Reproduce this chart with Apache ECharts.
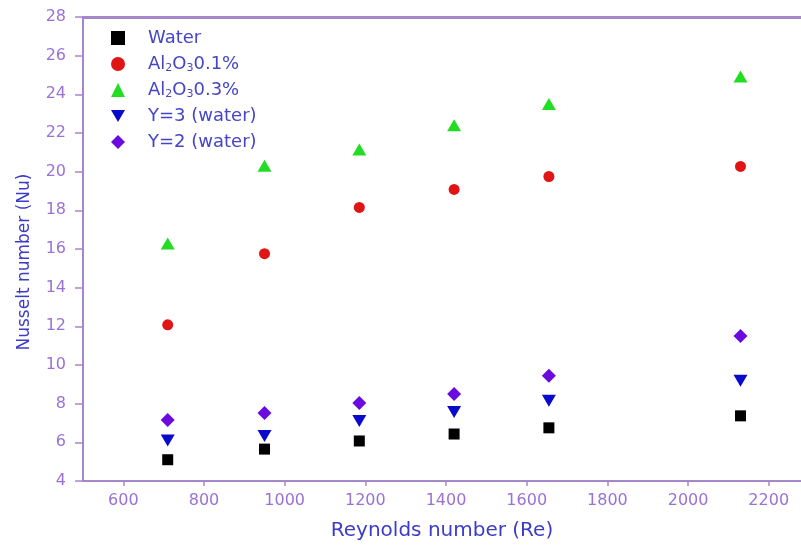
<!DOCTYPE html>
<html>
<head>
<meta charset="utf-8">
<title>Nusselt number vs Reynolds number</title>
<script src="https://cdn.jsdelivr.net/npm/echarts@6/dist/echarts.min.js"></script>
<style>
  html, body { margin: 0; padding: 0; background: #ffffff; }
  #chart { width: 801px; height: 549px; }
</style>
</head>
<body>
<div id="chart"></div>
<script>
// Reynolds numbers of the measured runs
const reynolds = [710, 950, 1185, 1420, 1655, 2130];

// Nusselt numbers for each working fluid / insert
const water    = [5.1, 5.65, 6.07, 6.43, 6.75, 7.37];
const al2o3_01 = [12.08, 15.76, 18.15, 19.08, 19.75, 20.27];
const al2o3_03 = [16.28, 20.3, 21.15, 22.4, 23.5, 24.92];
const y3Water  = [6.1, 6.33, 7.1, 7.57, 8.15, 9.18];
const y2Water  = [7.16, 7.52, 8.04, 8.5, 9.44, 11.5];

// Axis tick values
const xTicks = [600, 800, 1000, 1200, 1400, 1600, 1800, 2000, 2200];

const axisColor = '#a687cc';
const tickLabelColor = '#9a72d6';
const nameColor = '#3c3cc8';
const font = 'DejaVu Sans';

function pairs(ys) {
  return reynolds.map((x, i) => [x, ys[i]]);
}

const downTriangle = 'path://M0,0 L10,0 L5,8.5 Z';

const seriesDefs = [
  { name: 'Water', data: water, symbol: 'rect', size: [11, 11], color: '#000000', icon: 'rect' },
  { name: 'Al2O3 0.1%', data: al2o3_01, symbol: 'circle', size: 11, color: '#e01414', icon: 'circle' },
  { name: 'Al2O3 0.3%', data: al2o3_03, symbol: 'triangle', size: [14, 12], color: '#22dd22', icon: 'triangle' },
  { name: 'Y=3 (water)', data: y3Water, symbol: downTriangle, size: [14, 12], color: '#0a0acc', icon: downTriangle },
  { name: 'Y=2 (water)', data: y2Water, symbol: 'diamond', size: [14, 14], color: '#6a0adf', icon: 'diamond' }
];

const legendLabels = {
  'Water': 'Water',
  'Al2O3 0.1%': 'Al{sub|2}O{sub|3}0.1%',
  'Al2O3 0.3%': 'Al{sub|2}O{sub|3}0.3%',
  'Y=3 (water)': 'Y=3 (water)',
  'Y=2 (water)': 'Y=2 (water)'
};

const chart = echarts.init(document.getElementById('chart'), null, { renderer: 'canvas' });

const axisLineStyle = { color: axisColor, width: 2 };

chart.setOption({
  backgroundColor: '#ffffff',
  animation: false,
  grid: {
    left: 83, top: 17, right: 0, bottom: 68,
    show: false,
    containLabel: false
  },
  legend: {
    orient: 'vertical',
    left: 106,
    top: 23,
    itemWidth: 14,
    itemHeight: 14,
    itemGap: 6,
    formatter: name => legendLabels[name],
    textStyle: {
      fontFamily: font,
      fontSize: 18,
      color: '#4545c5',
      lineHeight: 20,
      padding: [0, 0, 0, 18],
      rich: {
        sub: { fontFamily: font, fontSize: 11, color: '#4545c5', lineHeight: 20, verticalAlign: 'bottom', padding: [8, 0, 0, 0] }
      }
    },
    data: seriesDefs.map(s => ({ name: s.name, icon: s.icon }))
  },
  xAxis: [{
    type: 'value',
    min: 500,
    max: 2280,
    name: 'Reynolds number (Re)',
    nameLocation: 'middle',
    nameGap: 40,
    nameTextStyle: { fontFamily: font, fontSize: 20, color: nameColor },
    axisLine: { show: true, onZero: false, lineStyle: axisLineStyle },
    axisTick: { show: true, inside: false, length: 5, customValues: xTicks, lineStyle: { color: axisColor, width: 1.5 } },
    axisLabel: { customValues: xTicks, margin: 12, fontFamily: font, fontSize: 16, color: tickLabelColor, formatter: v => String(v) },
    splitLine: { show: false }
  }, {
    // top frame line
    type: 'value',
    position: 'top',
    min: 500,
    max: 2280,
    axisLine: { show: true, onZero: false, lineStyle: { color: axisColor, width: 3 } },
    axisTick: { show: false },
    axisLabel: { show: false },
    splitLine: { show: false }
  }],
  yAxis: {
    type: 'value',
    min: 4,
    max: 28,
    interval: 2,
    name: 'Nusselt number (Nu)',
    nameLocation: 'middle',
    nameGap: 50,
    nameTextStyle: { fontFamily: font, fontSize: 17, color: nameColor, padding: [0, 26, 0, 0] },
    axisLine: { show: true, onZero: false, lineStyle: axisLineStyle },
    axisTick: { show: true, inside: false, length: 8, lineStyle: { color: axisColor, width: 1.5 } },
    axisLabel: { margin: 17, fontFamily: font, fontSize: 16, color: tickLabelColor, showMaxLabel: true, showMinLabel: true },
    splitLine: { show: false }
  },
  series: seriesDefs.map(s => ({
    name: s.name,
    type: 'scatter',
    xAxisIndex: 0,
    symbol: s.symbol,
    symbolSize: s.size,
    itemStyle: { color: s.color, opacity: 1 },
    data: pairs(s.data)
  }))
});
</script>
</body>
</html>
